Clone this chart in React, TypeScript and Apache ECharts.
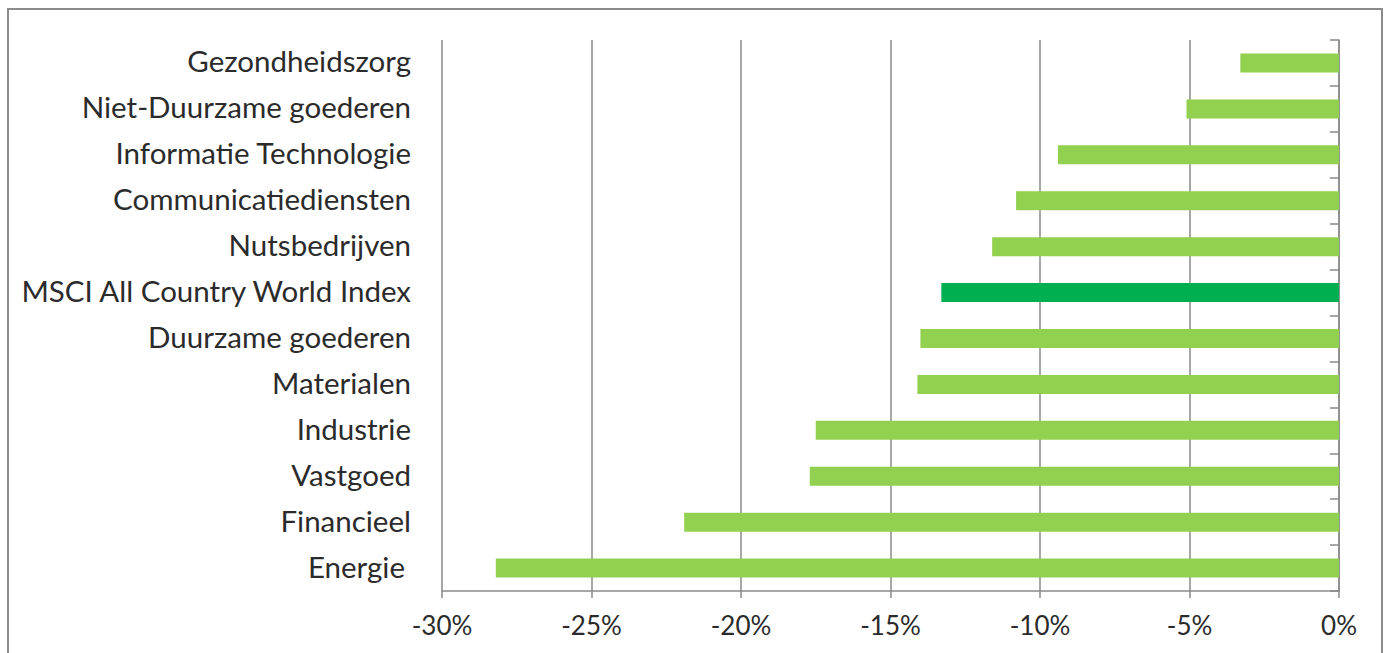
import React, { useEffect, useRef } from "react";
import * as echarts from "echarts";

// Sector returns, top to bottom
const categories: string[] = [
  "Gezondheidszorg",
  "Niet-Duurzame goederen",
  "Informatie Technologie",
  "Communicatiediensten",
  "Nutsbedrijven",
  "MSCI All Country World Index",
  "Duurzame goederen",
  "Materialen",
  "Industrie",
  "Vastgoed",
  "Financieel",
  "Energie",
];

const returns: number[] = [
  -3.3, -5.1, -9.4, -10.8, -11.6, -13.3, -14.0, -14.1, -17.5, -17.7, -21.9, -28.2,
];

const benchmark = "MSCI All Country World Index";
// label that carries a little trailing space in the source sheet
const indentedLabel = "Energie";

const SECTOR_COLOR = "#92D050";
const INDEX_COLOR = "#00B050";
const GRID_COLOR = "#8a8a8a";
const TEXT_COLOR = "#2b2b2b";
const FONT = "Lato, 'Noto Sans', sans-serif";
const CAT_FONT_SIZE = 29.5;

export default function App() {
  const ref = useRef<HTMLDivElement>(null);

  useEffect(() => {
    if (!ref.current) return;
    const chart = echarts.init(ref.current, null, { renderer: "svg" });

    chart.setOption({
      animation: false,
      backgroundColor: "#ffffff",
      textStyle: { fontFamily: FONT },
      graphic: [
        {
          type: "rect",
          shape: { x: 8, y: 9, width: 1374, height: 670 },
          style: { fill: "none", stroke: "#8c8c8c", lineWidth: 2 },
          silent: true,
          z: -1,
        },
      ],
      grid: { left: 442, right: 47, top: 40, bottom: 62, containLabel: false },
      xAxis: {
        type: "value",
        min: -30,
        max: 0,
        interval: 5,
        axisLine: { show: true, lineStyle: { color: GRID_COLOR, width: 1.5 } },
        axisTick: { show: true, length: 7, lineStyle: { color: GRID_COLOR, width: 1.5 } },
        splitLine: { show: true, lineStyle: { color: GRID_COLOR, width: 1.5 } },
        axisLabel: {
          formatter: (v: number) => `${v}%`,
          color: TEXT_COLOR,
          fontSize: 26,
          fontFamily: FONT,
          margin: 21,
        },
      },
      yAxis: [
        {
          type: "category",
          data: categories,
          inverse: true,
          position: "right",
          axisLine: { show: true, onZero: false, lineStyle: { color: GRID_COLOR, width: 1.5 } },
          axisTick: { show: true, inside: true, length: 9, lineStyle: { color: GRID_COLOR, width: 1.5 } },
          axisLabel: { show: false },
          splitLine: { show: false },
        },
        {
          type: "category",
          data: categories,
          inverse: true,
          position: "left",
          axisLine: { show: false },
          axisTick: { show: false },
          splitLine: { show: false },
          axisLabel: {
            color: TEXT_COLOR,
            fontSize: CAT_FONT_SIZE,
            fontFamily: FONT,
            margin: 31,
            formatter: (v: string) => (v === indentedLabel ? `{pad|${v}}` : `{txt|${v}}`),
            rich: {
              txt: {
                color: TEXT_COLOR,
                fontSize: CAT_FONT_SIZE,
                fontFamily: FONT,
                padding: [0, 0, 4, 0],
              },
              pad: {
                color: TEXT_COLOR,
                fontSize: CAT_FONT_SIZE,
                fontFamily: FONT,
                padding: [0, 6, 4, 0],
              },
            },
          },
        },
      ],
      series: [
        {
          type: "bar",
          yAxisIndex: 1,
          barWidth: 19,
          data: returns.map((v, i) => ({
            value: v,
            itemStyle: { color: categories[i] === benchmark ? INDEX_COLOR : SECTOR_COLOR },
          })),
        },
      ],
    });

    return () => chart.dispose();
  }, []);

  return (
    <div
      ref={ref}
      style={{ position: "absolute", left: 0, top: 0, width: 1386, height: 653 }}
    />
  );
}
